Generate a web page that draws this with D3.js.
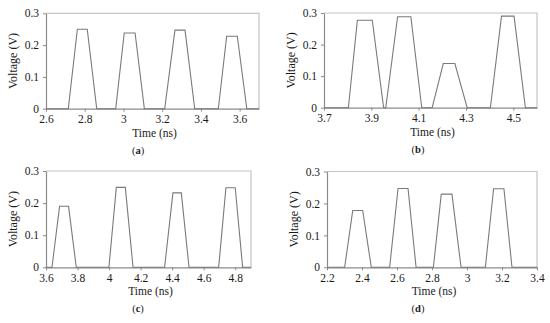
<!DOCTYPE html>
<html>
<head>
<meta charset="utf-8">
<script src="https://cdn.jsdelivr.net/npm/d3@7"></script>
<style>
  body { margin: 0; background: #fff; }
  svg { display: block; }
  svg text { font-family: "Liberation Serif", "Times New Roman", serif; }
</style>
</head>
<body>
<svg id="chart" width="550" height="323"></svg>
<script>
// time (ns) / voltage (V)
const timeA = [2.6, 2.715, 2.762, 2.813, 2.862, 2.960, 3.004, 3.060, 3.108, 3.213, 3.266, 3.318, 3.368, 3.490, 3.533, 3.588, 3.637, 3.7];
const voltA = [0, 0, 0.25, 0.25, 0, 0, 0.238, 0.238, 0, 0, 0.247, 0.247, 0, 0, 0.228, 0.228, 0, 0];

const timeB = [3.7, 3.803, 3.841, 3.904, 3.952, 3.961, 4.011, 4.067, 4.113, 4.157, 4.204, 4.253, 4.305, 4.403, 4.450, 4.503, 4.551, 4.6];
const voltB = [0, 0, 0.277, 0.277, 0, 0, 0.288, 0.288, 0, 0, 0.14, 0.14, 0, 0, 0.29, 0.29, 0, 0];

const timeC = [3.6, 3.638, 3.686, 3.743, 3.792, 3.999, 4.046, 4.103, 4.152, 4.352, 4.405, 4.458, 4.507, 4.695, 4.741, 4.800, 4.847, 4.9];
const voltC = [0, 0, 0.19, 0.19, 0, 0, 0.249, 0.249, 0, 0, 0.232, 0.232, 0, 0, 0.248, 0.248, 0, 0];

const timeD = [2.2, 2.301, 2.347, 2.404, 2.453, 2.558, 2.606, 2.663, 2.709, 2.808, 2.853, 2.914, 2.966, 3.105, 3.152, 3.211, 3.257, 3.4];
const voltD = [0, 0, 0.178, 0.178, 0, 0, 0.247, 0.247, 0, 0, 0.229, 0.229, 0, 0, 0.246, 0.246, 0, 0];

const ticksA = [2.6, 2.8, 3, 3.2, 3.4, 3.6];
const ticksB = [3.7, 3.9, 4.1, 4.3, 4.5];
const ticksC = [3.6, 3.8, 4, 4.2, 4.4, 4.6, 4.8];
const ticksD = [2.2, 2.4, 2.6, 2.8, 3, 3.2, 3.4];
const yTicks = [0, 0.1, 0.2, 0.3];

const panels = [
  {label: "a", t: timeA, v: voltA, dom: [2.6, 3.7], ticks: ticksA, box: [46, 259, 13.3, 108.7]},
  {label: "b", t: timeB, v: voltB, dom: [3.7, 4.6], ticks: ticksB, box: [324, 537, 13, 107.7]},
  {label: "c", t: timeC, v: voltC, dom: [3.6, 4.9], ticks: ticksC, box: [46, 251, 171, 267.3]},
  {label: "d", t: timeD, v: voltD, dom: [2.2, 3.4], ticks: ticksD, box: [327, 537, 171.5, 267.3]}
];

const svg = d3.select("#chart");

function styleText(sel, size) {
  sel.attr("fill", "#1a1a1a")
    .attr("font-family", null)
    .style("font-family", "'Liberation Serif', 'Times New Roman', serif")
    .style("font-size", size + "px");
}

panels.forEach(p => {
  const [x0, x1, y0, y1] = p.box;
  const x = d3.scaleLinear().domain(p.dom).range([x0, x1]);
  const y = d3.scaleLinear().domain([0, 0.3]).range([y1, y0]);
  const g = svg.append("g");

  // light frame on top and right
  g.append("path")
    .attr("d", `M${x0},${y0}H${x1}V${y1}`)
    .attr("fill", "none")
    .attr("stroke", "#c4c4c4")
    .attr("stroke-width", 1.2);

  const xAxis = g.append("g")
    .attr("transform", `translate(0,${y1})`)
    .call(d3.axisBottom(x).tickValues(p.ticks).tickSize(3).tickSizeOuter(0).tickFormat(d3.format("")));
  const yAxis = g.append("g")
    .attr("transform", `translate(${x0},0)`)
    .call(d3.axisLeft(y).tickValues(yTicks).tickSize(3).tickSizeOuter(0).tickFormat(d => d === 0 ? "0" : d3.format(".1f")(d)));

  [xAxis, yAxis].forEach(a => {
    a.attr("font-family", null).attr("font-size", null);
    a.select(".domain").attr("stroke", "#8a8a8a").attr("stroke-width", 1.2);
    a.selectAll(".tick line").attr("stroke", "#8a8a8a");
    styleText(a.selectAll("text"), 11.5);
  });
  xAxis.selectAll("text").attr("y", 5).attr("dy", "0.85em");
  yAxis.selectAll("text").attr("x", -7);

  const line = d3.line().x((d, i) => x(p.t[i])).y(d => y(d));
  g.append("path")
    .datum(p.v)
    .attr("d", line)
    .attr("fill", "none")
    .attr("stroke", "#7a7a7a")
    .attr("stroke-width", 1.1);

  const cx = (x0 + x1) / 2;
  g.append("text")
    .attr("x", cx + 2)
    .attr("y", y1 + 28)
    .attr("text-anchor", "middle")
    .call(styleText, 11.5)
    .text("Time (ns)");

  g.append("text")
    .attr("transform", `translate(${x0 - 29},${(y0 + y1) / 2}) rotate(-90)`)
    .attr("text-anchor", "middle")
    .call(styleText, 12)
    .text("Voltage (V)");

  const lab = g.append("text")
    .attr("x", p.label === "a" || p.label === "c" ? 138 : 418)
    .attr("y", y1 + 45)
    .attr("text-anchor", "middle")
    .call(styleText, 10.5);
  lab.append("tspan").text("(");
  lab.append("tspan").attr("font-weight", "bold").text(p.label);
  lab.append("tspan").text(")");
});
</script>
</body>
</html>
